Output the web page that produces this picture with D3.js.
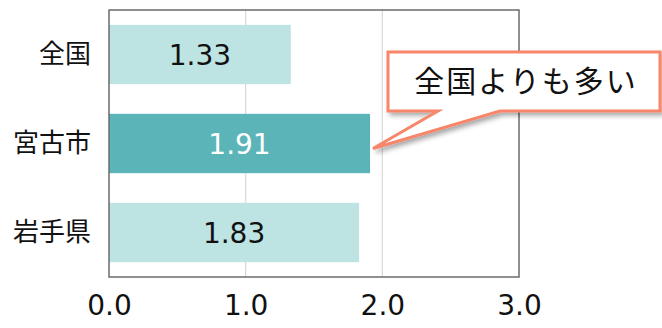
<!DOCTYPE html>
<html>
<head>
<meta charset="utf-8">
<script src="https://cdn.jsdelivr.net/npm/d3@7"></script>
<style>
  body { margin: 0; background: #fff; }
  svg { display: block; font-family: "Noto Sans CJK JP", "Noto Sans", sans-serif; }
</style>
</head>
<body>
<div id="chart"></div>
<script>
const categories = ["全国", "宮古市", "岩手県"];
const values = [1.33, 1.91, 1.83];
const highlight = "宮古市";
const xTicks = [0, 1, 2, 3];
const calloutText = "全国よりも多い";

const W = 662, H = 328;
const margin = { top: 10, right: 143, bottom: 51, left: 109 };
const width = W - margin.left - margin.right,
      height = H - margin.top - margin.bottom;
const numFont = "'DejaVu Sans', Verdana, sans-serif";

const svg = d3.select("#chart").append("svg")
  .attr("width", W).attr("height", H);

const defs = svg.append("defs");
const shadow = defs.append("filter").attr("id", "shadow")
  .attr("x", "-10%").attr("y", "-20%").attr("width", "130%").attr("height", "160%");
shadow.append("feDropShadow")
  .attr("dx", 3).attr("dy", 3).attr("stdDeviation", 2.5)
  .attr("flood-color", "#000").attr("flood-opacity", 0.35);

const g = svg.append("g").attr("transform", `translate(${margin.left},${margin.top})`);

// -------------------- SCALES --------------------
const x = d3.scaleLinear().domain([0, 3]).range([0, width]);
const y = d3.scaleBand().domain(categories).range([0, height])
  .paddingInner(1 / 3).paddingOuter(1 / 6);

// gridlines
g.selectAll(".grid")
  .data(xTicks.filter(t => t > 0 && t < 3))
  .join("line")
  .attr("x1", d => x(d)).attr("x2", d => x(d))
  .attr("y1", 0).attr("y2", height)
  .attr("stroke", "#d9d9d9").attr("stroke-width", 1.2);

// bars
const rows = categories.map((c, i) => ({ c, v: values[i] }));
g.selectAll(".bar")
  .data(rows)
  .join("rect")
  .attr("x", 0)
  .attr("y", d => y(d.c))
  .attr("width", d => x(d.v))
  .attr("height", y.bandwidth())
  .attr("fill", d => d.c === highlight ? "#5bb5b8" : "#bde3e3");

// value labels
g.selectAll(".val")
  .data(rows)
  .join("text")
  .attr("x", d => x(d.v) / 2)
  .attr("y", d => y(d.c) + y.bandwidth() / 2)
  .attr("dy", "0.36em")
  .attr("text-anchor", "middle")
  .style("font-size", "28px")
  .style("font-family", numFont)
  .attr("fill", d => d.c === highlight ? "#fff" : "#111")
  .text(d => d.v.toFixed(2));

// frame
g.append("rect")
  .attr("x", 0).attr("y", 0).attr("width", width).attr("height", height)
  .attr("fill", "none").attr("stroke", "#6b6b6b").attr("stroke-width", 1.5);

// y axis labels
const yAxis = g.append("g")
  .call(d3.axisLeft(y).tickSize(0).tickPadding(18));
yAxis.select(".domain").remove();
yAxis.selectAll("text")
  .style("font-size", "26px")
  .style("font-family", "'Noto Sans CJK JP', sans-serif")
  .attr("fill", "#111");

// x axis labels
const xAxis = g.append("g")
  .attr("transform", `translate(0,${height})`)
  .call(d3.axisBottom(x).tickValues(xTicks).tickFormat(d3.format(".1f")).tickSize(0).tickPadding(18));
xAxis.select(".domain").remove();
xAxis.selectAll("text")
  .style("font-size", "28px")
  .style("font-family", numFont)
  .attr("fill", "#111");

// -------------------- CALLOUT --------------------
const tipX = x(values[1]) + 3, tipY = y(highlight) + y.bandwidth() / 2 + 5;
const box = { x0: 388, y0: 52, x1: 660, y1: 111 };
const path = d3.path();
path.moveTo(box.x0, box.y0);
path.lineTo(box.x1, box.y0);
path.lineTo(box.x1, box.y1);
path.lineTo(500, box.y1);
path.lineTo(tipX + margin.left, tipY + margin.top);
path.lineTo(438, box.y1);
path.lineTo(box.x0, box.y1);
path.closePath();

svg.append("path")
  .attr("d", path.toString())
  .attr("fill", "#fff")
  .attr("stroke", "#f7866a")
  .attr("stroke-width", 3)
  .attr("stroke-linejoin", "miter")
  .attr("filter", "url(#shadow)");

svg.append("text")
  .attr("x", (box.x0 + box.x1) / 2 + 2)
  .attr("y", (box.y0 + box.y1) / 2)
  .attr("dy", "0.36em")
  .attr("text-anchor", "middle")
  .style("font-size", "30px")
  .style("letter-spacing", "2px")
  .attr("fill", "#111")
  .text(calloutText);
</script>
</body>
</html>
